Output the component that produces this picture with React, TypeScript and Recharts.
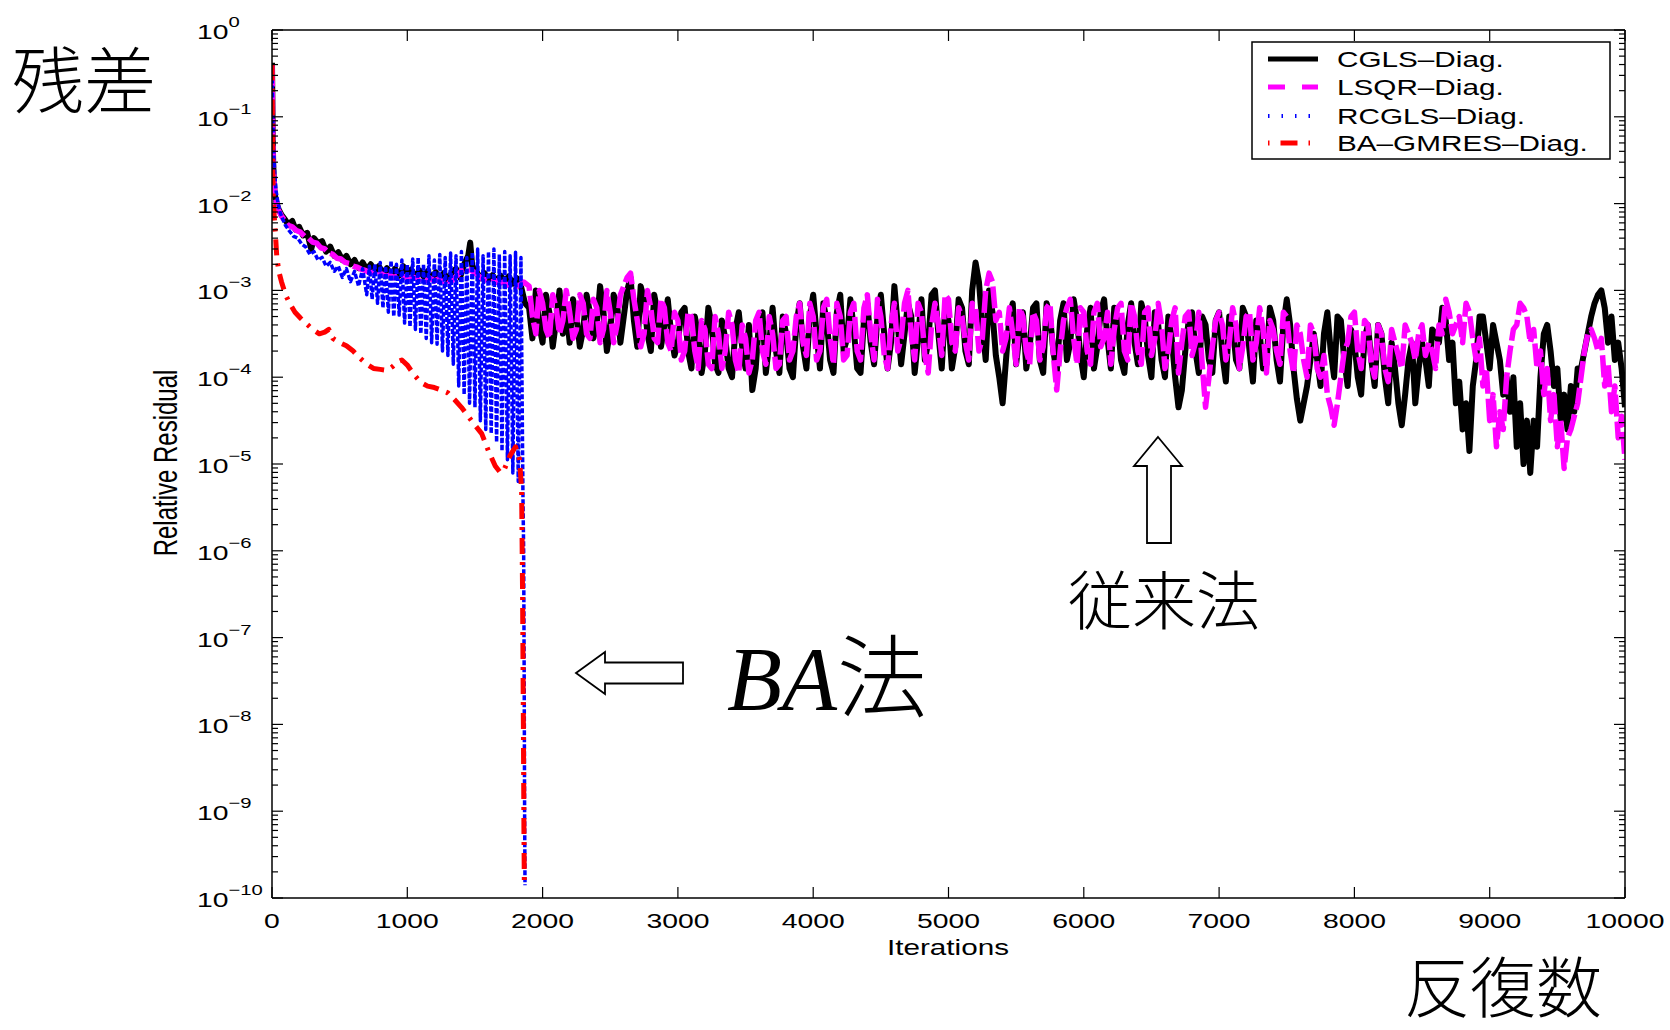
import React from "react";
import { LineChart, Line, XAxis, YAxis, ReferenceLine } from "recharts";

// iteration, relative residual
const cgls: [number, number][] = [
  [0, 4.2e-1], [2, 2.0e-1], [4, 1.0e-1], [6, 5.0e-2], [9, 2.8e-2], [13, 1.9e-2], [18, 1.4e-2], [25, 1.17e-2],
  [35, 1.0e-2], [50, 8.5e-3], [70, 7.4e-3], [95, 6.6e-3], [120, 5.75e-3], [150, 6.3e-3], [175, 5.0e-3], [200, 5.4e-3],
  [230, 4.3e-3], [260, 4.6e-3], [290, 3.0e-3], [310, 4.0e-3], [340, 3.5e-3], [370, 3.7e-3], [400, 2.8e-3], [430, 3.2e-3],
  [460, 2.5e-3], [490, 2.75e-3], [520, 2.24e-3], [550, 2.5e-3], [580, 2.0e-3], [610, 2.24e-3], [640, 1.8e-3], [670, 2.1e-3],
  [700, 1.74e-3], [730, 2.0e-3], [760, 1.66e-3], [790, 1.9e-3], [820, 1.58e-3], [850, 1.8e-3], [880, 1.5e-3], [910, 1.78e-3],
  [940, 1.48e-3], [970, 1.9e-3], [1000, 1.58e-3], [1030, 1.74e-3], [1060, 1.41e-3], [1090, 1.7e-3], [1120, 1.45e-3], [1150, 1.66e-3],
  [1180, 1.38e-3], [1210, 1.62e-3], [1240, 1.35e-3], [1270, 1.58e-3], [1300, 1.32e-3], [1330, 1.62e-3], [1360, 1.78e-3], [1390, 1.41e-3],
  [1420, 2.0e-3], [1450, 2.5e-3], [1465, 3.55e-3], [1480, 1.9e-3], [1510, 1.66e-3], [1540, 1.38e-3], [1570, 1.58e-3], [1600, 1.32e-3],
  [1630, 1.5e-3], [1660, 1.26e-3], [1690, 1.48e-3], [1720, 1.26e-3], [1750, 1.45e-3], [1780, 1.2e-3], [1810, 1.38e-3], [1840, 1.12e-3],
  [1870, 7.1e-4],
  [1900, 6.3e-4], [1925, 2.8e-4], [1950, 1.0e-3], [1975, 4.0e-4], [2000, 2.5e-4], [2025, 8.9e-4], [2050, 5.6e-4], [2075, 2.24e-4],
  [2100, 4.5e-4], [2125, 1.0e-3], [2150, 3.16e-4], [2175, 6.3e-4], [2200, 2.5e-4], [2225, 7.9e-4], [2250, 5.0e-4], [2275, 2.24e-4],
  [2300, 3.55e-4], [2325, 8.9e-4], [2350, 5.6e-4], [2375, 2.8e-4],
  [2400, 4.0e-4], [2425, 1.12e-3], [2450, 5.6e-4], [2475, 2.0e-4], [2500, 3.55e-4], [2525, 8.9e-4], [2550, 7.1e-4], [2575, 2.5e-4],
  [2600, 5.0e-4], [2625, 1.0e-3], [2650, 1.41e-3], [2675, 4.5e-4], [2700, 2.24e-4], [2725, 1.12e-3], [2750, 7.9e-4], [2775, 3.16e-4],
  [2800, 2.0e-4], [2825, 8.9e-4], [2850, 5.6e-4], [2875, 2.24e-4], [2900, 4.0e-4], [2925, 7.9e-4], [2950, 3.16e-4], [2975, 1.78e-4],
  [3000, 2.5e-4], [3025, 5.6e-4], [3050, 6.3e-4], [3075, 2.0e-4], [3100, 1.26e-4], [3125, 5.0e-4], [3150, 3.16e-4], [3175, 1.12e-4],
  [3200, 2.0e-4], [3225, 6.3e-4], [3250, 4.0e-4], [3275, 1.41e-4], [3300, 1.12e-4], [3325, 4.5e-4], [3350, 2.8e-4], [3375, 1.26e-4],
  [3400, 1.0e-4], [3425, 3.55e-4], [3450, 5.6e-4], [3475, 2.24e-4], [3500, 1.26e-4], [3525, 4.0e-4], [3550, 7.1e-5], [3575, 1.26e-4],
  [3600, 4.5e-4], [3625, 5.6e-4], [3650, 1.12e-4], [3675, 2.5e-4], [3700, 6.3e-4], [3725, 2.0e-4], [3750, 1.12e-4], [3775, 5.0e-4],
  [3800, 3.16e-4], [3825, 1.26e-4], [3850, 1.0e-4], [3875, 4.0e-4],
  [3900, 7.1e-4], [3925, 2.24e-4], [3950, 1.26e-4], [3975, 5.0e-4], [4000, 8.9e-4], [4025, 3.16e-4], [4050, 1.26e-4], [4075, 7.1e-4],
  [4100, 4.5e-4], [4125, 1.58e-4], [4150, 1.12e-4], [4175, 5.6e-4], [4200, 8.9e-4], [4225, 2.0e-4], [4250, 2.8e-4], [4275, 7.9e-4],
  [4300, 3.55e-4], [4325, 1.26e-4], [4350, 1.12e-4], [4375, 4.5e-4], [4400, 7.1e-4], [4425, 2.5e-4], [4450, 1.41e-4], [4475, 5.0e-4],
  [4500, 8.9e-4], [4525, 3.16e-4], [4550, 1.26e-4], [4575, 2.5e-4], [4600, 1.12e-3], [4625, 4.0e-4], [4650, 1.41e-4], [4675, 3.16e-4],
  [4700, 7.1e-4], [4725, 5.0e-4], [4750, 1.12e-4], [4775, 2.8e-4], [4800, 7.9e-4], [4825, 1.58e-4], [4850, 2.5e-4], [4875, 8.9e-4],
  [4900, 1.0e-3], [4925, 3.16e-4], [4950, 1.26e-4], [4975, 6.3e-4], [5000, 4.5e-4], [5025, 1.26e-4], [5050, 2.24e-4], [5075, 7.9e-4],
  [5100, 6.3e-4], [5125, 2.0e-4], [5150, 1.41e-4], [5175, 1.0e-3], [5200, 2.1e-3], [5225, 1.26e-3], [5250, 4.0e-4], [5275, 1.58e-4],
  [5300, 1.0e-3], [5325, 5.6e-4], [5350, 1.78e-4], [5375, 1.0e-4], [5400, 5.0e-5], [5425, 1.58e-4], [5450, 5.0e-4], [5475, 7.1e-4],
  [5500, 1.41e-4], [5525, 3.16e-4],
  [5550, 5.6e-4], [5575, 1.26e-4], [5600, 2.24e-4], [5625, 6.3e-4], [5650, 7.1e-4], [5675, 1.58e-4], [5700, 1.12e-4], [5725, 7.1e-4],
  [5750, 5.0e-4], [5775, 2.0e-4], [5800, 1.12e-4], [5825, 4.5e-4], [5850, 7.1e-4], [5875, 1.58e-4], [5900, 2.5e-4], [5925, 7.9e-4],
  [5950, 4.5e-4], [5975, 1.78e-4], [6000, 1.0e-4], [6025, 3.55e-4], [6050, 6.3e-4], [6075, 1.26e-4], [6100, 2.24e-4], [6125, 5.6e-4],
  [6150, 7.9e-4], [6175, 2.8e-4], [6200, 1.26e-4], [6225, 6.3e-4], [6250, 4.5e-4], [6275, 1.58e-4], [6300, 1.12e-4], [6325, 4.0e-4],
  [6350, 7.1e-4], [6375, 2.5e-4], [6400, 1.41e-4], [6425, 7.1e-4], [6450, 5.0e-4], [6475, 1.78e-4], [6500, 1.0e-4], [6525, 5.6e-4],
  [6550, 4.0e-4], [6575, 1.58e-4], [6600, 1.0e-4], [6625, 5.0e-4], [6650, 2.8e-4], [6675, 1.0e-4], [6700, 4.5e-5], [6725, 7.1e-5],
  [6750, 2.0e-4], [6775, 4.5e-4], [6800, 5.6e-4], [6825, 2.0e-4], [6850, 1.12e-4], [6875, 5.0e-4],
  [6900, 4.0e-4], [6925, 1.58e-4], [6950, 1.12e-4], [6975, 4.5e-4], [7000, 5.6e-4], [7025, 1.78e-4], [7050, 8.9e-5], [7075, 5.0e-4],
  [7100, 4.0e-4], [7125, 1.58e-4], [7150, 1.26e-4], [7175, 6.3e-4], [7200, 5.0e-4], [7225, 2.0e-4], [7250, 8.9e-5], [7275, 4.5e-4],
  [7300, 3.16e-4], [7325, 1.26e-4], [7350, 1.41e-4], [7375, 6.3e-4], [7400, 4.5e-4], [7425, 1.58e-4], [7450, 8.9e-5], [7475, 4.0e-4],
  [7500, 7.9e-4], [7525, 4.0e-4], [7550, 1.26e-4], [7575, 5.6e-5],
  [7600, 3.16e-5], [7625, 5.0e-5], [7650, 7.9e-5], [7675, 1.58e-4], [7700, 3.16e-4], [7725, 1.58e-4], [7750, 7.9e-5], [7775, 3.16e-4],
  [7800, 5.6e-4], [7825, 2.0e-4], [7850, 1.0e-4], [7875, 5.0e-4], [7900, 4.5e-4], [7925, 1.58e-4], [7950, 7.9e-5], [7975, 3.55e-4],
  [8000, 2.5e-4], [8025, 1.0e-4], [8050, 6.3e-5], [8075, 2.8e-4], [8100, 4.0e-4], [8125, 1.58e-4], [8150, 7.9e-5], [8175, 4.0e-4],
  [8200, 3.16e-4], [8225, 1.0e-4], [8250, 5.0e-5], [8275, 2.5e-4],
  [8300, 1.26e-4], [8325, 5.0e-5], [8350, 2.8e-5], [8375, 6.3e-5], [8400, 1.58e-4], [8425, 2.5e-4], [8450, 5.0e-5],
  [8475, 1.26e-4], [8500, 2.5e-4], [8525, 1.58e-4], [8550, 7.9e-5], [8575, 3.55e-4], [8600, 3.16e-4], [8625, 2.5e-4], [8650, 6.3e-4],
  [8675, 4.5e-4], [8700, 1.58e-4], [8725, 2.5e-4], [8750, 5.0e-5], [8775, 8.9e-5], [8800, 2.5e-5], [8825, 5.0e-5], [8850, 1.41e-5],
  [8875, 7.9e-5], [8900, 1.58e-4], [8925, 5.0e-4], [8950, 5.0e-4], [8975, 2.5e-4], [9000, 1.26e-4], [9025, 4.0e-4], [9050, 2.5e-4],
  [9075, 1.58e-4], [9100, 6.3e-5], [9125, 1.0e-4], [9150, 4.0e-5], [9175, 1.0e-4], [9200, 1.58e-5], [9225, 5.0e-5], [9250, 1.0e-5],
  [9275, 3.16e-5], [9300, 7.9e-6], [9325, 3.16e-5], [9350, 1.58e-5], [9375, 1.0e-4], [9400, 3.16e-4], [9425, 4.0e-4], [9450, 2.0e-4],
  [9475, 7.9e-5], [9500, 1.26e-4], [9525, 3.16e-5], [9550, 6.3e-5], [9575, 2.5e-5], [9600, 7.9e-5], [9625, 4.0e-5], [9650, 1.26e-4],
  [9675, 1.26e-4], [9700, 2.0e-4], [9725, 3.16e-4], [9750, 5.0e-4], [9775, 7.1e-4], [9800, 8.9e-4], [9825, 1.0e-3], [9850, 6.3e-4],
  [9875, 2.5e-4], [9900, 5.0e-4], [9925, 1.58e-4], [9950, 2.5e-4], [9975, 1.26e-4], [10000, 4.5e-5],
];

const lsqr: [number, number][] = [
  [0, 4.0e-1], [2, 2.2e-1], [4, 1.1e-1], [6, 5.5e-2], [9, 3.0e-2], [13, 2.0e-2], [18, 1.5e-2], [25, 1.2e-2],
  [35, 1.0e-2], [50, 8.3e-3], [70, 7.2e-3], [95, 6.3e-3], [120, 5.6e-3], [150, 5.4e-3], [180, 4.9e-3], [210, 4.7e-3],
  [240, 4.2e-3], [270, 4.0e-3], [300, 3.6e-3], [330, 3.5e-3], [360, 3.1e-3], [390, 3.0e-3], [420, 2.7e-3], [450, 2.6e-3],
  [480, 2.35e-3], [510, 2.3e-3], [540, 2.1e-3], [570, 2.05e-3], [600, 1.9e-3], [630, 1.85e-3], [660, 1.75e-3], [690, 1.7e-3],
  [720, 1.6e-3], [750, 1.62e-3], [780, 1.5e-3], [810, 1.55e-3], [840, 1.45e-3], [870, 1.5e-3], [900, 1.4e-3], [930, 1.48e-3],
  [960, 1.38e-3], [990, 1.45e-3], [1020, 1.35e-3], [1050, 1.42e-3], [1080, 1.32e-3], [1110, 1.4e-3], [1140, 1.3e-3], [1170, 1.38e-3],
  [1200, 1.28e-3], [1230, 1.36e-3], [1260, 1.26e-3], [1290, 1.35e-3], [1320, 1.25e-3], [1350, 1.4e-3], [1380, 1.55e-3], [1410, 1.75e-3],
  [1440, 1.8e-3], [1470, 1.7e-3], [1500, 1.6e-3], [1530, 1.45e-3], [1560, 1.35e-3], [1590, 1.3e-3], [1620, 1.25e-3], [1650, 1.3e-3],
  [1680, 1.2e-3], [1710, 1.25e-3], [1740, 1.15e-3], [1770, 1.2e-3], [1800, 1.1e-3], [1830, 1.15e-3], [1860, 1.25e-3],
  [1900, 1.12e-3], [1925, 5.0e-4], [1950, 3.16e-4], [1975, 1.0e-3], [2000, 7.1e-4], [2025, 3.55e-4], [2050, 2.8e-4], [2075, 8.9e-4],
  [2100, 6.3e-4], [2125, 3.16e-4], [2150, 4.5e-4], [2175, 1.0e-3], [2200, 5.6e-4], [2225, 2.8e-4], [2250, 3.55e-4], [2275, 8.9e-4],
  [2300, 7.1e-4], [2325, 3.16e-4], [2350, 2.8e-4], [2375, 7.9e-4],
  [2400, 6.3e-4], [2425, 2.5e-4], [2450, 3.55e-4], [2475, 1.0e-3], [2500, 5.6e-4], [2525, 2.5e-4], [2550, 4.0e-4], [2575, 8.9e-4],
  [2600, 1.12e-3], [2625, 1.41e-3], [2650, 1.58e-3], [2675, 7.9e-4], [2700, 4.5e-4], [2725, 2.24e-4], [2750, 3.16e-4], [2775, 1.0e-3],
  [2800, 6.3e-4], [2825, 2.8e-4], [2850, 2.5e-4], [2875, 7.9e-4], [2900, 6.3e-4], [2925, 2.5e-4], [2950, 2.0e-4], [2975, 5.6e-4],
  [3000, 4.5e-4], [3025, 1.58e-4], [3050, 2.0e-4], [3075, 5.6e-4], [3100, 5.0e-4], [3125, 2.0e-4], [3150, 1.26e-4], [3175, 4.5e-4],
  [3200, 3.55e-4], [3225, 1.41e-4], [3250, 1.26e-4], [3275, 5.0e-4], [3300, 3.16e-4], [3325, 1.26e-4], [3350, 2.0e-4], [3375, 5.6e-4],
  [3400, 4.0e-4], [3425, 1.58e-4], [3450, 1.12e-4], [3475, 4.0e-4], [3500, 2.8e-4], [3525, 1.12e-4], [3550, 1.58e-4], [3575, 4.5e-4],
  [3600, 5.6e-4], [3625, 2.0e-4], [3650, 1.41e-4], [3675, 5.0e-4], [3700, 3.16e-4], [3725, 1.26e-4], [3750, 1.41e-4], [3775, 4.5e-4],
  [3800, 5.0e-4], [3825, 1.58e-4], [3850, 2.0e-4], [3875, 5.0e-4],
  [3900, 7.1e-4], [3925, 2.5e-4], [3950, 1.78e-4], [3975, 7.1e-4], [4000, 5.0e-4], [4025, 1.58e-4], [4050, 2.0e-4], [4075, 6.3e-4],
  [4100, 7.9e-4], [4125, 2.8e-4], [4150, 1.41e-4], [4175, 7.1e-4], [4200, 5.0e-4], [4225, 1.58e-4], [4250, 1.78e-4], [4275, 5.6e-4],
  [4300, 7.1e-4], [4325, 2.0e-4], [4350, 1.58e-4], [4375, 6.3e-4], [4400, 8.9e-4], [4425, 3.16e-4], [4450, 1.58e-4], [4475, 7.9e-4],
  [4500, 5.0e-4], [4525, 1.78e-4], [4550, 1.26e-4], [4575, 4.0e-4], [4600, 7.1e-4], [4625, 2.0e-4], [4650, 2.8e-4], [4675, 7.1e-4],
  [4700, 1.0e-3], [4725, 3.16e-4], [4750, 1.58e-4], [4775, 7.1e-4], [4800, 5.6e-4], [4825, 1.78e-4], [4850, 1.12e-4], [4875, 4.0e-4],
  [4900, 7.1e-4], [4925, 4.0e-4], [4950, 1.78e-4], [4975, 8.9e-4], [5000, 7.9e-4], [5025, 2.5e-4], [5050, 2.0e-4], [5075, 6.3e-4],
  [5100, 5.0e-4], [5125, 2.5e-4], [5150, 1.58e-4], [5175, 7.1e-4], [5200, 6.3e-4], [5225, 2.0e-4], [5250, 2.8e-4], [5275, 1.0e-3],
  [5300, 1.58e-3], [5325, 1.26e-3], [5350, 4.5e-4], [5375, 5.6e-4], [5400, 2.0e-4], [5425, 2.8e-4], [5450, 6.3e-4], [5475, 3.16e-4],
  [5500, 1.41e-4], [5525, 6.3e-4],
  [5550, 5.0e-4], [5575, 2.0e-4], [5600, 1.41e-4], [5625, 5.6e-4], [5650, 4.5e-4], [5675, 1.58e-4], [5700, 2.24e-4], [5725, 6.3e-4],
  [5750, 7.1e-4], [5775, 1.78e-4], [5800, 7.1e-5], [5825, 2.0e-4], [5850, 4.5e-4], [5875, 6.3e-4], [5900, 7.9e-4], [5925, 2.8e-4],
  [5950, 1.41e-4], [5975, 6.3e-4], [6000, 5.6e-4], [6025, 2.0e-4], [6050, 1.41e-4], [6075, 5.6e-4], [6100, 7.1e-4], [6125, 2.24e-4],
  [6150, 2.8e-4], [6175, 5.6e-4], [6200, 1.41e-4], [6225, 3.55e-4], [6250, 6.3e-4], [6275, 7.1e-4], [6300, 2.0e-4], [6325, 1.58e-4],
  [6350, 7.1e-4], [6375, 5.0e-4], [6400, 2.0e-4], [6425, 1.41e-4], [6450, 5.6e-4], [6475, 6.3e-4], [6500, 1.78e-4], [6525, 2.8e-4],
  [6550, 7.1e-4], [6575, 4.0e-4], [6600, 1.26e-4], [6625, 2.0e-4], [6650, 4.5e-4], [6675, 6.3e-4], [6700, 1.12e-4], [6725, 2.5e-4],
  [6750, 5.0e-4], [6775, 5.6e-4], [6800, 1.78e-4], [6825, 2.5e-4], [6850, 5.6e-4], [6875, 1.41e-4],
  [6900, 4.5e-5], [6925, 1.0e-4], [6950, 2.24e-4], [6975, 4.5e-4], [7000, 5.6e-4], [7025, 4.0e-4], [7050, 1.58e-4], [7075, 2.5e-4],
  [7100, 6.3e-4], [7125, 4.0e-4], [7150, 1.26e-4], [7175, 2.24e-4], [7200, 5.0e-4], [7225, 5.6e-4], [7250, 1.58e-4], [7275, 2.5e-4],
  [7300, 6.3e-4], [7325, 3.55e-4], [7350, 1.12e-4], [7375, 4.5e-4], [7400, 3.55e-4], [7425, 2.0e-4], [7450, 1.41e-4], [7475, 5.6e-4],
  [7500, 5.0e-4], [7525, 2.0e-4], [7550, 1.12e-4], [7575, 4.0e-4],
  [7600, 3.16e-4], [7625, 1.58e-4], [7650, 1.0e-4], [7675, 4.0e-4], [7700, 3.16e-4], [7725, 1.26e-4], [7750, 1.0e-4], [7775, 1.78e-4],
  [7800, 6.3e-5], [7825, 4.5e-5], [7850, 2.8e-5], [7875, 5.0e-5], [7900, 1.0e-4], [7925, 2.0e-4], [7950, 2.5e-4], [7975, 5.0e-4],
  [8000, 5.6e-4], [8025, 2.0e-4], [8050, 1.26e-4], [8075, 4.5e-4], [8100, 4.0e-4], [8125, 1.41e-4], [8150, 1.0e-4], [8175, 4.0e-4],
  [8200, 3.16e-4], [8225, 1.26e-4], [8250, 8.9e-5], [8275, 3.55e-4],
  [8300, 2.5e-4], [8325, 1.78e-4], [8350, 1.26e-4], [8375, 4.0e-4], [8400, 3.16e-4], [8425, 2.5e-4], [8450, 1.58e-4], [8475, 3.16e-4],
  [8500, 4.0e-4], [8525, 1.78e-4], [8550, 2.5e-4], [8575, 2.0e-4], [8600, 1.26e-4], [8625, 4.0e-4], [8650, 3.16e-4], [8675, 7.9e-4],
  [8700, 5.6e-4], [8725, 3.16e-4], [8750, 4.0e-4], [8775, 5.0e-4], [8800, 2.5e-4], [8825, 7.1e-4], [8850, 5.6e-4], [8875, 2.8e-4],
  [8900, 1.58e-4], [8925, 2.8e-4], [8950, 7.9e-5], [8975, 1.26e-4], [9000, 3.16e-5], [9025, 6.3e-5], [9050, 1.58e-5], [9075, 4.0e-5],
  [9100, 2.5e-5], [9125, 1.0e-4], [9150, 2.0e-4], [9175, 3.55e-4], [9200, 4.0e-4], [9225, 7.1e-4], [9250, 6.3e-4], [9275, 5.0e-4],
  [9300, 2.5e-4], [9325, 3.55e-4], [9350, 1.26e-4], [9375, 2.0e-4], [9400, 6.3e-5], [9425, 1.26e-4], [9450, 3.16e-5], [9475, 6.3e-5],
  [9500, 1.58e-5], [9525, 3.16e-5], [9550, 8.9e-6], [9575, 2.0e-5], [9600, 2.5e-5], [9625, 3.55e-5], [9650, 5.0e-5], [9675, 1.0e-4],
  [9700, 2.0e-4], [9725, 3.16e-4], [9750, 3.55e-4], [9775, 2.8e-4], [9800, 2.0e-4], [9825, 2.8e-4], [9850, 7.9e-5], [9875, 1.41e-4],
  [9900, 4.0e-5], [9925, 7.9e-5], [9950, 2.0e-5], [9975, 3.55e-5], [10000, 1.12e-5],
];

const rcgls: [number, number][] = [
  [0, 4.0e-1], [5, 1.26e-1], [10, 5.0e-2], [20, 2.24e-2], [30, 1.41e-2], [45, 1.0e-2], [60, 7.9e-3], [80, 6.6e-3],
  [100, 5.6e-3], [130, 4.8e-3], [160, 4.2e-3], [190, 4.0e-3], [220, 3.4e-3], [250, 3.16e-3], [280, 2.6e-3], [310, 2.8e-3],
  [340, 2.24e-3], [370, 2.4e-3], [400, 1.9e-3], [430, 2.1e-3], [460, 1.66e-3], [490, 1.9e-3], [520, 1.41e-3], [550, 1.78e-3],
  [580, 1.26e-3], [610, 1.66e-3], [640, 1.12e-3], [670, 1.78e-3], [700, 8.9e-4], [720, 1.9e-3], [740, 7.9e-4], [760, 2.0e-3],
  [780, 7.1e-4], [800, 2.1e-3], [820, 6.3e-4], [840, 1.9e-3], [860, 5.6e-4], [880, 2.2e-3], [900, 5.0e-4], [920, 2.0e-3],
  [940, 5.2e-4], [960, 2.24e-3], [980, 4.2e-4], [1000, 2.0e-3], [1020, 3.8e-4], [1040, 2.3e-3], [1060, 3.55e-4], [1080, 2.4e-3],
  [1100, 3.16e-4], [1120, 2.0e-3], [1140, 2.8e-4], [1160, 2.5e-3], [1180, 2.5e-4], [1200, 2.24e-3], [1220, 2.4e-4], [1240, 2.6e-3],
  [1260, 2.0e-4], [1280, 2.4e-3], [1300, 1.78e-4], [1320, 2.7e-3], [1340, 1.41e-4], [1360, 2.5e-3], [1380, 7.9e-5], [1400, 2.8e-3],
  [1420, 6.3e-5], [1440, 2.4e-3], [1460, 5.0e-5], [1480, 2.75e-3], [1500, 4.5e-5], [1520, 3.0e-3], [1540, 3.16e-5], [1560, 2.5e-3],
  [1580, 2.5e-5], [1600, 2.8e-3], [1620, 2.24e-5], [1640, 3.0e-3], [1660, 1.78e-5], [1680, 2.6e-3], [1700, 1.41e-5], [1720, 2.8e-3],
  [1740, 1.12e-5], [1760, 2.5e-3], [1780, 7.9e-6], [1800, 2.75e-3], [1820, 6.3e-6], [1840, 2.4e-3], [1855, 4.0e-6], [1860, 1.0e-6],
  [1864, 3.16e-8], [1867, 1.0e-9], [1870, 1.4e-10],
];

const baGmres: [number, number][] = [
  [0, 4.0e-1], [3, 1.0e-1], [6, 2.5e-2], [10, 1.12e-2], [15, 7.9e-3], [25, 4.5e-3], [35, 2.5e-3], [50, 1.66e-3],
  [70, 1.26e-3], [100, 8.9e-4], [130, 7.1e-4], [170, 5.6e-4], [210, 4.8e-4], [250, 4.2e-4], [300, 3.55e-4], [350, 3.16e-4],
  [390, 3.3e-4], [420, 3.55e-4], [450, 2.8e-4], [500, 2.5e-4], [550, 2.3e-4], [600, 2.0e-4], [650, 1.66e-4], [700, 1.41e-4],
  [750, 1.26e-4], [800, 1.23e-4], [850, 1.2e-4], [890, 1.32e-4], [930, 1.51e-4], [960, 1.58e-4], [1000, 1.38e-4], [1050, 1.07e-4],
  [1100, 8.7e-5], [1150, 7.9e-5], [1200, 7.6e-5], [1250, 7.1e-5], [1300, 6.6e-5], [1350, 5.5e-5], [1400, 4.5e-5], [1450, 3.55e-5],
  [1500, 2.8e-5], [1550, 2.24e-5], [1600, 1.41e-5], [1650, 9.5e-6], [1690, 7.9e-6], [1720, 8.9e-6], [1760, 1.26e-5], [1800, 1.58e-5],
  [1830, 1.12e-5], [1845, 5.0e-6], [1852, 3.16e-7], [1858, 1.0e-8], [1862, 6.3e-10], [1865, 1.4e-10],
];

const xTicks = [0, 1000, 2000, 3000, 4000, 5000, 6000, 7000, 8000, 9000, 10000];
const yMajor = [1, 1e-1, 1e-2, 1e-3, 1e-4, 1e-5, 1e-6, 1e-7, 1e-8, 1e-9, 1e-10];

const series = [
  { key: "cgls", name: "CGLS\u2013Diag.", data: cgls, color: "#000000", width: 6, dash: undefined, legendDash: undefined },
  { key: "lsqr", name: "LSQR\u2013Diag.", data: lsqr, color: "#ff00ff", width: 5.5, dash: "22 5", legendDash: "17 17" },
  { key: "rcgls", name: "RCGLS\u2013Diag.", data: rcgls, color: "#0000ff", width: 3.5, dash: "5 2", legendDash: "1.5 12" },
  { key: "ba", name: "BA\u2013GMRES\u2013Diag.", data: baGmres, color: "#ff0000", width: 5, dash: "16 8 3 8", legendDash: "1.5 11 17 11" },
];

// minor log ticks 2..9 x 10^k
const yTicks: number[] = [];
yMajor.forEach((m, i) => {
  yTicks.push(m);
  if (i < yMajor.length - 1) for (let k = 2; k <= 9; k++) yTicks.push(k * yMajor[i + 1]);
});

const PL = 272, PR = 1625, PT = 30, PB = 898;
const SANS = "'Liberation Sans', Arial, sans-serif";
const CJK = "'Noto Sans CJK JP', sans-serif";

function YTick(props: any) {
  const { y, payload } = props;
  const e = Math.log10(payload.value);
  const major = Math.abs(e - Math.round(e)) < 1e-6;
  const len = major ? 11 : 6;
  const exp = Math.round(e);
  return (
    <g>
      <line x1={PL} x2={PL + len} y1={y} y2={y} stroke="#000" strokeWidth={1.2} />
      <line x1={PR - len} x2={PR} y1={y} y2={y} stroke="#000" strokeWidth={1.2} />
      {major && (
        <g transform={`translate(197, ${y + 9}) scale(1.35, 1)`}>
          <text x={0} y={0} fontSize={21} fontFamily={SANS} fill="#000">
            10<tspan dy={-12} fontSize={15}>{exp === 0 ? "0" : "\u2212" + Math.abs(exp)}</tspan>
          </text>
        </g>
      )}
    </g>
  );
}

function XTick(props: any) {
  const { x, payload } = props;
  return (
    <g>
      <line x1={x} x2={x} y1={PB} y2={PB - 11} stroke="#000" strokeWidth={1.2} />
      <line x1={x} x2={x} y1={PT} y2={PT + 11} stroke="#000" strokeWidth={1.2} />
      <g transform={`translate(${x}, 928) scale(1.35, 1)`}>
        <text x={0} y={0} textAnchor="middle" fontSize={21} fontFamily={SANS} fill="#000">{payload.value}</text>
      </g>
    </g>
  );
}

export default function App() {
  return (
    <div style={{ position: "absolute", left: 0, top: 0, width: 1670, height: 1030, background: "#fff" }}>
      <LineChart width={1670} height={1030} margin={{ top: 30, right: 45, bottom: 92, left: 172 }}>
        <XAxis
          dataKey="it"
          type="number"
          domain={[0, 10000]}
          ticks={xTicks}
          interval={0}
          allowDataOverflow
          height={40}
          tickLine={false}
          axisLine={{ stroke: "#000", strokeWidth: 1.5 }}
          tick={<XTick />}
        />
        <YAxis
          dataKey="res"
          type="number"
          scale="log"
          domain={[1e-10, 1]}
          ticks={yTicks}
          interval={0}
          allowDataOverflow
          width={100}
          tickLine={false}
          axisLine={{ stroke: "#000", strokeWidth: 1.5 }}
          tick={<YTick />}
        />
        {series.map((s) => (
          <Line
            key={s.key}
            data={s.data.map(([it, res]) => ({ it, res }))}
            dataKey="res"
            name={s.name}
            type="linear"
            stroke={s.color}
            strokeWidth={s.width}
            strokeDasharray={s.dash}
            strokeLinejoin="round"
            dot={false}
            activeDot={false}
            isAnimationActive={false}
          />
        ))}
        <ReferenceLine y={1} stroke="#000" strokeWidth={1.5} />
        <ReferenceLine x={10000} stroke="#000" strokeWidth={1.5} />
      </LineChart>

      <svg width={1670} height={1030} style={{ position: "absolute", left: 0, top: 0, pointerEvents: "none" }}>
        {/* legend */}
        <rect x={1252} y={42} width={358} height={117} fill="#fff" stroke="#000" strokeWidth={1.5} />
        {series.map((s, i) => {
          const cy = [59, 87, 116, 143][i];
          return (
            <g key={s.key}>
              <line x1={1268} x2={1318} y1={cy} y2={cy} stroke={s.color} strokeWidth={s.key === "rcgls" ? 4 : 5}
                strokeDasharray={s.legendDash} />
              <g transform={`translate(1337, ${cy + 8}) scale(1.35, 1)`}>
                <text x={0} y={0} fontSize={22} fontFamily={SANS} fill="#000">{s.name}</text>
              </g>
            </g>
          );
        })}

        {/* axis titles */}
        <g transform="translate(948, 955) scale(1.35, 1)">
          <text x={0} y={0} textAnchor="middle" fontSize={22} fontFamily={SANS} fill="#000">Iterations</text>
        </g>
        <g transform="translate(177, 463) scale(1.35, 1) rotate(-90)">
          <text x={0} y={0} textAnchor="middle" fontSize={24} fontFamily={SANS} fill="#000">Relative Residual</text>
        </g>

        {/* annotations */}
        <text x={12} y={107} fontSize={72} fontFamily={CJK} fontWeight={300} fill="#000">残差</text>
        <text x={1404} y={1012} fontSize={66} fontFamily={CJK} fontWeight={300} fill="#000">反復数</text>
        <text x={1068} y={624} fontSize={64} fontFamily={CJK} fontWeight={300} fill="#000">従来法</text>
        <text x={727} y={710} fontSize={90} fill="#000">
          <tspan fontFamily="'Liberation Serif', 'Times New Roman', serif" fontStyle="italic">BA</tspan>
          <tspan fontFamily={CJK} fontWeight={300}>法</tspan>
        </text>
        <polygon points="576,673 605,652 605,662.5 683,662.5 683,683.5 605,683.5 605,694"
          fill="#fff" stroke="#000" strokeWidth={1.8} />
        <polygon points="1158,437 1182,466 1171,466 1171,543 1147,543 1147,466 1134,466"
          fill="#fff" stroke="#000" strokeWidth={1.8} />
      </svg>
    </div>
  );
}
